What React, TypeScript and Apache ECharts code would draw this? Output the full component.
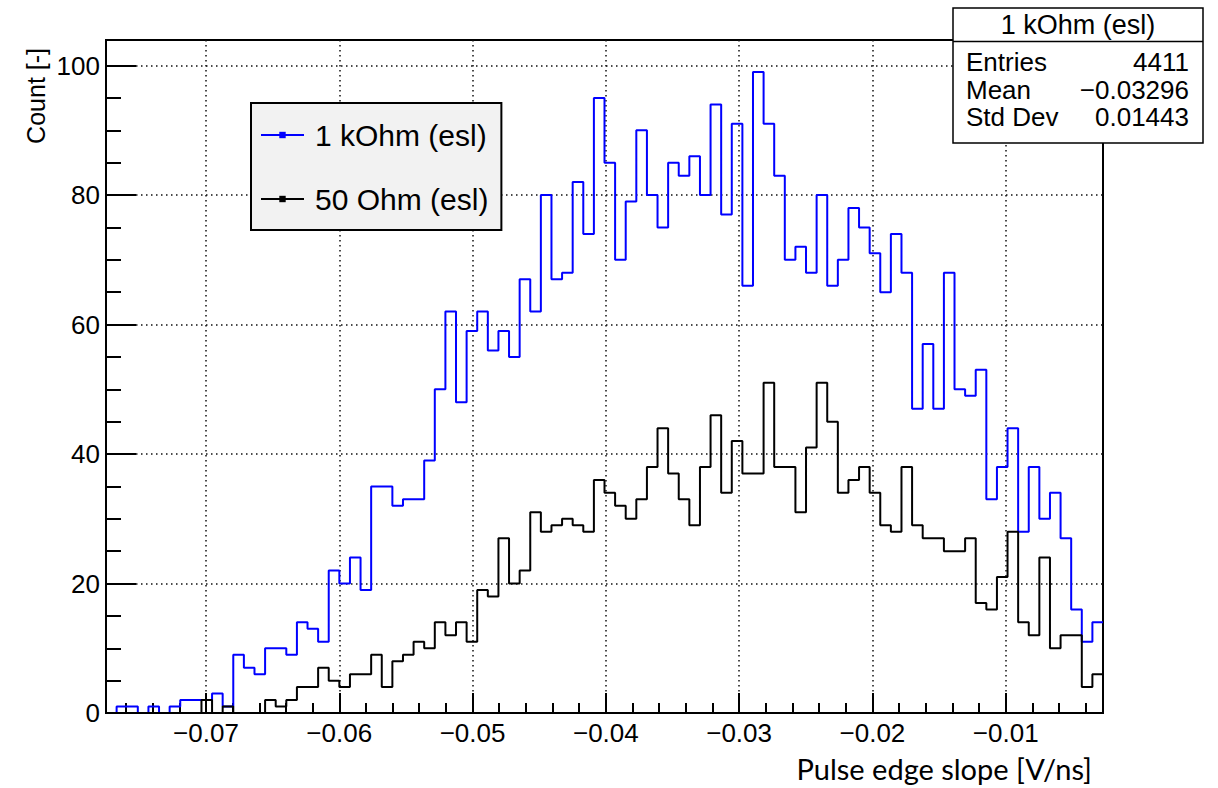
import React, { useEffect, useRef } from "react";
import * as echarts from "echarts";

// ---- axis / binning definition ----
const X_MIN = -0.0775;
const X_MAX = -0.0027;
const N_BINS = 94;
const Y_MIN = 0;
const Y_MAX = 103.95;

const X_MAJOR_TICKS = [-0.07, -0.06, -0.05, -0.04, -0.03, -0.02, -0.01];
const X_MINOR_TICKS = [
  -0.076, -0.074, -0.072, -0.068, -0.066, -0.064, -0.062, -0.058, -0.056, -0.054,
  -0.052, -0.048, -0.046, -0.044, -0.042, -0.038, -0.036, -0.034, -0.032, -0.028,
  -0.026, -0.024, -0.022, -0.018, -0.016, -0.014, -0.012, -0.008, -0.006, -0.004,
];
const Y_MAJOR_TICKS = [0, 20, 40, 60, 80, 100];
const Y_MINOR_TICKS = [5, 10, 15, 25, 30, 35, 45, 50, 55, 65, 70, 75, 85, 90, 95];

// ---- series (bin contents, left to right) ----
const SERIES_1K_NAME = "1 kOhm (esl)";
const SERIES_50_NAME = "50 Ohm (esl)";

const COUNTS_1K = [
  0, 1, 1, 0, 1, 0, 1, 2, 2, 2, 3, 1, 9, 7, 6, 10, 10, 9, 14, 13,
  11, 22, 20, 24, 19, 35, 35, 32, 33, 33, 39, 50, 62, 48, 59, 62, 56, 59, 55, 67,
  62, 80, 67, 68, 82, 74, 95, 85, 70, 79, 90, 80, 75, 85, 83, 86, 80, 94, 77, 91,
  66, 99, 91, 83, 70, 72, 68, 80, 66, 70, 78, 75, 71, 65, 74, 68, 47, 57, 47, 68,
  50, 49, 53, 33, 38, 44, 28, 38, 30, 34, 27, 16, 11, 14,
];

const COUNTS_50 = [
  0, 0, 0, 0, 0, 0, 0, 0, 0, 2, 0, 1, 0, 0, 0, 2, 1, 2, 4, 4,
  7, 5, 4, 6, 6, 9, 4, 8, 9, 11, 10, 14, 12, 14, 11, 19, 18, 27, 20, 22,
  31, 28, 29, 30, 29, 28, 36, 34, 32, 30, 33, 38, 44, 37, 33, 29, 38, 46, 34, 42,
  37, 37, 51, 38, 38, 31, 41, 51, 45, 34, 36, 38, 34, 29, 28, 38, 29, 27, 27, 25,
  25, 27, 17, 16, 21, 28, 14, 12, 24, 10, 12, 12, 4, 6,
];

// ---- stats box ----
const STATS_TITLE = "1 kOhm (esl)";
const STATS_LABELS = ["Entries", "Mean", "Std Dev"];
const STATS_VALUES = ["4411", "\u22120.03296", "0.01443"];

const X_TITLE = "Pulse edge slope [V/ns]";
const Y_TITLE = "Count [-]";

const FONT = "'Liberation Sans', Arial, Helvetica, sans-serif";

function binEdge(i: number): number {
  return X_MIN + ((X_MAX - X_MIN) * i) / N_BINS;
}

function histPoints(counts: number[]): number[][] {
  const pts: number[][] = [];
  counts.forEach((v, i) => {
    pts.push([binEdge(i), v]);
    pts.push([binEdge(i + 1), v]);
  });
  return pts;
}

function fmtX(v: number): string {
  return v.toFixed(2).replace("-", "\u2212");
}

export default function App() {
  const ref = useRef<HTMLDivElement>(null);

  useEffect(() => {
    if (!ref.current) return;
    const chart = echarts.init(ref.current, null, { renderer: "svg" });

    const statsTop = 8;
    const statsLeft = 953;
    const statsW = 250;
    const statsH = 135;
    const rowY = [62, 89.5, 117];

    const statsElements: any[] = [
      {
        type: "rect",
        shape: { x: statsLeft, y: statsTop, width: statsW, height: statsH },
        style: { fill: "#ffffff", stroke: "#000", lineWidth: 1.5 },
        z: 100,
      },
      {
        type: "line",
        shape: { x1: statsLeft, y1: 41.5, x2: statsLeft + statsW, y2: 41.5 },
        style: { stroke: "#000", lineWidth: 1.5 },
        z: 101,
      },
      {
        type: "text",
        x: statsLeft + statsW / 2,
        y: 25,
        style: {
          text: STATS_TITLE,
          fontSize: 27,
          fontFamily: FONT,
          fill: "#000",
          align: "center",
          verticalAlign: "middle",
        },
        z: 101,
      },
    ];
    STATS_LABELS.forEach((lab, k) => {
      statsElements.push({
        type: "text",
        x: 966,
        y: rowY[k],
        style: { text: lab, fontSize: 26, fontFamily: FONT, fill: "#000", align: "left", verticalAlign: "middle" },
        z: 101,
      });
      statsElements.push({
        type: "text",
        x: 1189,
        y: rowY[k],
        style: { text: STATS_VALUES[k], fontSize: 26, fontFamily: FONT, fill: "#000", align: "right", verticalAlign: "middle" },
        z: 101,
      });
    });

    const option: any = {
      animation: false,
      backgroundColor: "#ffffff",
      grid: {
        left: 106,
        right: 115,
        top: 40,
        bottom: 75,
        show: true,
        borderColor: "#000",
        borderWidth: 2,
        backgroundColor: "transparent",
      },
      legend: {
        orient: "vertical",
        left: 251,
        top: 103,
        padding: [17, 13, 16, 9],
        itemWidth: 43,
        itemHeight: 8,
        itemGap: 34,
        backgroundColor: "#f2f2f2",
        borderColor: "#000",
        borderWidth: 2,
        selectedMode: false,
        data: [SERIES_1K_NAME, SERIES_50_NAME],
        textStyle: { fontSize: 30, color: "#000", fontFamily: FONT, padding: [0, 0, 0, 6] },
      },
      xAxis: [
        {
          type: "value",
          min: X_MIN,
          max: X_MAX,
          position: "bottom",
          axisLine: { show: true, onZero: false, lineStyle: { color: "#000", width: 2 } },
          axisTick: {
            show: true,
            inside: true,
            length: 20,
            customValues: X_MAJOR_TICKS,
            lineStyle: { color: "#000", width: 2 },
          },
          axisLabel: {
            show: true,
            customValues: X_MAJOR_TICKS,
            formatter: (v: number) => fmtX(v),
            fontSize: 26,
            color: "#000",
            fontFamily: FONT,
            margin: 7,
          },
          splitLine: {
            show: true,
            lineStyle: { color: "#111", width: 1.5, type: [1.5, 3.5] },
          },
        },
        {
          type: "value",
          min: X_MIN,
          max: X_MAX,
          position: "bottom",
          axisLine: { show: false, onZero: false },
          axisTick: {
            show: true,
            inside: true,
            length: 10,
            customValues: X_MINOR_TICKS,
            lineStyle: { color: "#000", width: 2 },
          },
          axisLabel: { show: false },
          splitLine: { show: false },
        },
      ],
      yAxis: [
        {
          type: "value",
          min: Y_MIN,
          max: Y_MAX,
          position: "left",
          axisLine: { show: true, onZero: false, lineStyle: { color: "#000", width: 2 } },
          axisTick: {
            show: true,
            inside: true,
            length: 30,
            customValues: Y_MAJOR_TICKS,
            lineStyle: { color: "#000", width: 2 },
          },
          axisLabel: {
            show: true,
            customValues: Y_MAJOR_TICKS,
            fontSize: 26,
            color: "#000",
            fontFamily: FONT,
            margin: 6,
          },
          splitLine: {
            show: true,
            lineStyle: { color: "#111", width: 1.5, type: [1.5, 3.5] },
          },
        },
        {
          type: "value",
          min: Y_MIN,
          max: Y_MAX,
          position: "left",
          axisLine: { show: false, onZero: false },
          axisTick: {
            show: true,
            inside: true,
            length: 15,
            customValues: Y_MINOR_TICKS,
            lineStyle: { color: "#000", width: 2 },
          },
          axisLabel: { show: false },
          splitLine: { show: false },
        },
      ],
      series: [
        {
          name: SERIES_1K_NAME,
          type: "line",
          xAxisIndex: 0,
          yAxisIndex: 0,
          data: histPoints(COUNTS_1K),
          showSymbol: false,
          symbol: "rect",
          symbolSize: 6,
          silent: true,
          color: "#0000ff",
          lineStyle: { color: "#0000ff", width: 2 },
          itemStyle: { color: "#0000ff" },
          z: 3,
        },
        {
          name: SERIES_50_NAME,
          type: "line",
          xAxisIndex: 0,
          yAxisIndex: 0,
          data: histPoints(COUNTS_50),
          showSymbol: false,
          symbol: "rect",
          symbolSize: 6,
          silent: true,
          color: "#000000",
          lineStyle: { color: "#000000", width: 2 },
          itemStyle: { color: "#000000" },
          z: 4,
        },
      ],
      graphic: [
        ...statsElements,
        {
          type: "text",
          x: 36,
          y: 48,
          rotation: Math.PI / 2,
          style: {
            text: Y_TITLE,
            fontSize: 25,
            fontFamily: FONT,
            fill: "#000",
            align: "right",
            verticalAlign: "middle",
          },
          z: 50,
        },
        {
          type: "text",
          x: 1092,
          y: 768,
          style: {
            text: X_TITLE,
            fontSize: 29,
            fontFamily: "Lato, 'Open Sans', sans-serif",
            fill: "#000",
            align: "right",
            verticalAlign: "middle",
          },
          z: 50,
        },
      ],
    };

    chart.setOption(option);
    return () => chart.dispose();
  }, []);

  return (
    <div
      ref={ref}
      style={{ position: "fixed", left: 0, top: 0, width: 1218, height: 788, background: "#fff" }}
    />
  );
}
